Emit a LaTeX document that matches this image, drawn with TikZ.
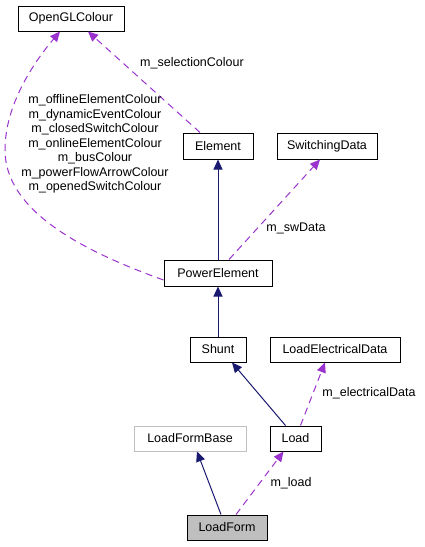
\documentclass[tikz,border=0pt]{standalone}
\usepackage{fontspec}
\setmainfont{Liberation Sans}
\usetikzlibrary{arrows.meta}
\definecolor{navyc}{HTML}{191970}
\definecolor{purp}{HTML}{9A32CD}
\definecolor{grayb}{HTML}{BFBFBF}
\begin{document}
\begin{tikzpicture}[x=1pt,y=-1pt,
  every node/.style={font=\fontsize{12.5}{14.5}\selectfont, inner sep=0pt},
  cls/.style={draw=black, line width=1pt, fill=white, minimum height=25pt},
  inh/.style={draw=navyc, line width=1pt, -{Triangle[length=10pt,width=9pt]}},
  use/.style={draw=purp, line width=1pt, dash pattern=on 7pt off 5pt, -{Triangle[length=10pt,width=9pt]}},
  lbl/.style={align=center}]
\useasboundingbox (0,0) rectangle (424,547);
\node[cls, minimum width=106pt] (ogl) at (71,18.5) {OpenGLColour};
\node[cls, minimum width=70pt, minimum height=26pt] (elem) at (218,146) {Element};
\node[cls, minimum width=100pt, minimum height=26pt] (sw) at (327,146) {SwitchingData};
\node[cls, minimum width=108pt, minimum height=26pt] (pe) at (218,273) {PowerElement};
\node[cls, minimum width=56pt] (shunt) at (218,349.5) {Shunt};
\node[cls, minimum width=130pt] (led) at (335,349.5) {LoadElectricalData};
\node[cls, draw=grayb, minimum width=112pt] (lfb) at (190,438.5) {LoadFormBase};
\node[cls, minimum width=51pt] (load) at (295.5,438.5) {Load};
\node[cls, fill=grayb, minimum width=80pt] (lf) at (227,527.5) {LoadForm};

\draw[inh] (pe.north) -- (elem.south);
\draw[inh] (shunt.north) -- (pe.south);
\draw[inh] ([xshift=-10pt]load.north) -- ([xshift=14pt]shunt.south);
\draw[inh] ([xshift=-6pt]lf.north) -- ([xshift=7pt]lfb.south);

\draw[use] ([xshift=9pt]lf.north) -- ([xshift=-12pt]load.south);
\draw[use] ([xshift=5pt]load.north) -- ([xshift=-10pt]led.south);
\draw[use] ([xshift=11pt]pe.north) -- ([xshift=-7pt]sw.south);
\draw[use] ([xshift=-18pt]elem.north) -- ([xshift=17pt]ogl.south);
\draw[use] ([yshift=-7pt]pe.west) .. controls (80,250) and (5,210) .. (5,150)
  .. controls (5,100) and (40,55) .. ([xshift=-11pt]ogl.south);

\node[lbl] (l1) at (192,63) {m\_selectionColour};
\node[lbl] (l2) at (95,144) {m\_offlineElementColour\\m\_dynamicEventColour\\m\_closedSwitchColour\\m\_onlineElementColour\\m\_busColour\\m\_powerFlowArrowColour\\m\_openedSwitchColour};
\node[lbl] (l3) at (296,228) {m\_swData};
\node[lbl] (l4) at (369,393) {m\_electricalData};
\node[lbl] (l5) at (291,483) {m\_load};
\end{tikzpicture}
\end{document}
